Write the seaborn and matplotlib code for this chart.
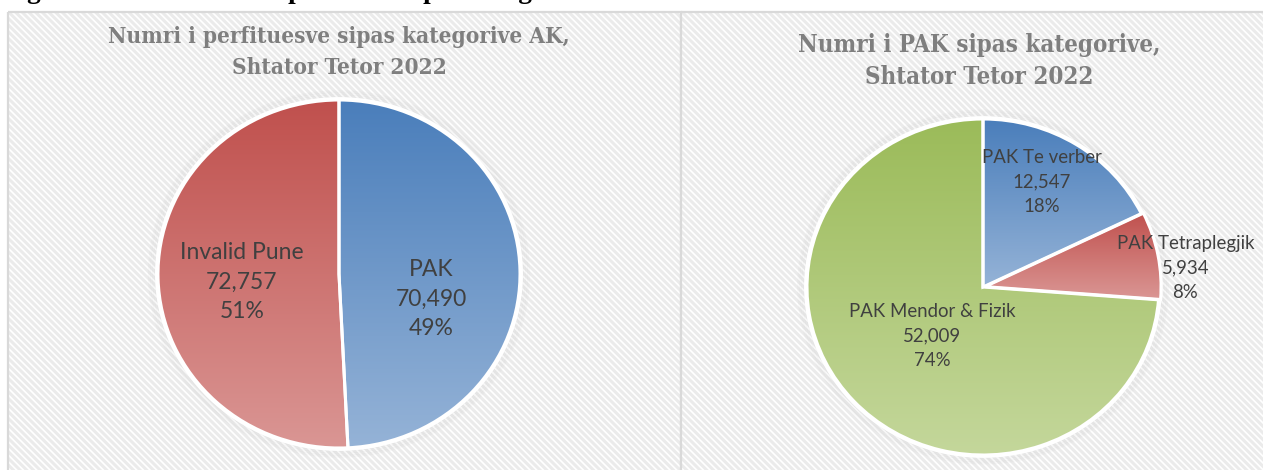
import numpy as np
import matplotlib
matplotlib.use("Agg")
import matplotlib.pyplot as plt
import seaborn as sns
from matplotlib.colors import LinearSegmentedColormap
from matplotlib.patches import Rectangle, Ellipse, Wedge

# ---------------- data ----------------
left_title = "Numri i perfituesve sipas kategorive AK,\nShtator Tetor 2022"
left_labels = ["PAK", "Invalid Pune"]
left_values = [70490, 72757]

right_title = "Numri i PAK sipas kategorive,\nShtator Tetor 2022"
right_labels = ["PAK Te verber", "PAK Tetraplegjik", "PAK Mendor & Fizik"]
right_values = [12547, 5934, 52009]

header_text = "Figura 10: Numri total i perfituesve per kategorite"

# ---------------- style ----------------
sns.set_theme(style="white")
plt.rcParams["font.family"] = ["Lato", "DejaVu Sans"]
plt.rcParams["hatch.linewidth"] = 1.2

W, H = 1263, 470
fig = plt.figure(figsize=(W / 100, H / 100), dpi=100)
fig.patch.set_facecolor("white")

# background axes in pixel coords
bg = fig.add_axes([0, 0, 1, 1])
bg.set_xlim(0, W)
bg.set_ylim(H, 0)
bg.axis("off")

for (x0, x1) in [(8, 681), (681, W + 5)]:
    bg.add_patch(Rectangle((x0, 12), x1 - x0, H - 12 + 5, facecolor="#EBEBEB",
                           edgecolor="white", hatch="\\\\\\\\\\", lw=0))
    bg.add_patch(Rectangle((x0, 12), x1 - x0, H - 12 + 5, facecolor="none",
                           edgecolor="#D9D9D9", lw=1.6))

# cut-off header text at the very top
bg.text(3, -2.5, header_text, fontsize=19.5, fontweight="bold",
        family="Liberation Serif", color="black", va="baseline", ha="left",
        clip_on=False)

palette = {
    "blue": ("#4A7EBB", "#95B3D7"),
    "red": ("#C0504D", "#DA9694"),
    "green": ("#9BBB59", "#C4D79B"),
}


def gradient_pie(ax, values, colors, explode):
    wedges, _ = ax.pie(values, startangle=90, counterclock=False, radius=1,
                       explode=explode,
                       colors=[palette[c][0] for c in colors],
                       wedgeprops=dict(edgecolor="white", linewidth=2.2))
    grad = np.linspace(0, 1, 256).reshape(-1, 1)
    for w, c in zip(wedges, colors):
        cmap = LinearSegmentedColormap.from_list("g", [palette[c][0], palette[c][1]])
        bb = w.get_path().get_extents()
        im = ax.imshow(grad, extent=[bb.x0, bb.x1, bb.y0, bb.y1], origin="upper",
                       cmap=cmap, aspect="auto", zorder=w.get_zorder() + 0.1,
                       interpolation="bilinear")
        im.set_clip_path(w)
        edge = Wedge(w.center, w.r, w.theta1, w.theta2, facecolor="none",
                     edgecolor="white", lw=2.2, zorder=w.get_zorder() + 0.2)
        ax.add_patch(edge)
    return wedges


PAD = 1.4


def pie_axes(cx, cy, rx, ry):
    ax = fig.add_axes([(cx - rx * PAD) / W, 1 - (cy + ry * PAD) / H,
                       2 * rx * PAD / W, 2 * ry * PAD / H])
    ax.axis("off")
    return ax


def finish(ax):
    ax.set_aspect("auto")
    ax.set_xlim(-PAD, PAD)
    ax.set_ylim(-PAD, PAD)


def shadow(ax):
    for i in range(4):
        ax.add_patch(Ellipse((0, 0), 2 * (1 + 0.012 * (i + 1)), 2 * (1 + 0.012 * (i + 1)),
                             facecolor="none", edgecolor="#9a9a9a", lw=2.0,
                             alpha=0.05, zorder=0))
    ax.add_patch(Ellipse((0, 0), 2.016, 2.016, facecolor="none", edgecolor="white",
                         lw=2.2, zorder=0.5))


# ---------------- left pie ----------------
axL = pie_axes(339, 274, 181, 174)
shadow(axL)
gradient_pie(axL, left_values, ["blue", "red"], [0, 0])
finish(axL)
ltot = sum(left_values)
left_pos = [(0.51, -0.144), (-0.536, -0.046)]
for lab, v, (x, y) in zip(left_labels, left_values, left_pos):
    axL.text(x, y, f"{lab}\n{v:,}\n{v / ltot:.0%}", ha="center", va="center",
             fontsize=16.5, color="#404040", linespacing=1.5, zorder=10)

# ---------------- right pie ----------------
axR = pie_axes(983, 287, 176, 168)
shadow(axR)
gradient_pie(axR, right_values, ["blue", "red", "green"], [0, 0.012, 0])
finish(axR)
rtot = sum(right_values)
right_pos = [(0.335, 0.625), (1.15, 0.113), (-0.29, -0.29)]
for lab, v, (x, y) in zip(right_labels, right_values, right_pos):
    axR.text(x, y, f"{lab}\n{v:,}\n{v / rtot:.0%}", ha="center", va="center",
             fontsize=13.4, color="#404040", linespacing=1.52, zorder=10)

# ---------------- titles ----------------
title_kw = dict(ha="center", va="center", fontweight="bold",
                family="DejaVu Serif", fontstretch="condensed", color="#7F7F7F")
bg.text(339, 52.5, left_title, fontsize=16.2, linespacing=1.5, **title_kw)
bg.text(979, 61, right_title, fontsize=17.3, linespacing=1.42, **title_kw)

fig.savefig("out.png", dpi=100, facecolor="white")
